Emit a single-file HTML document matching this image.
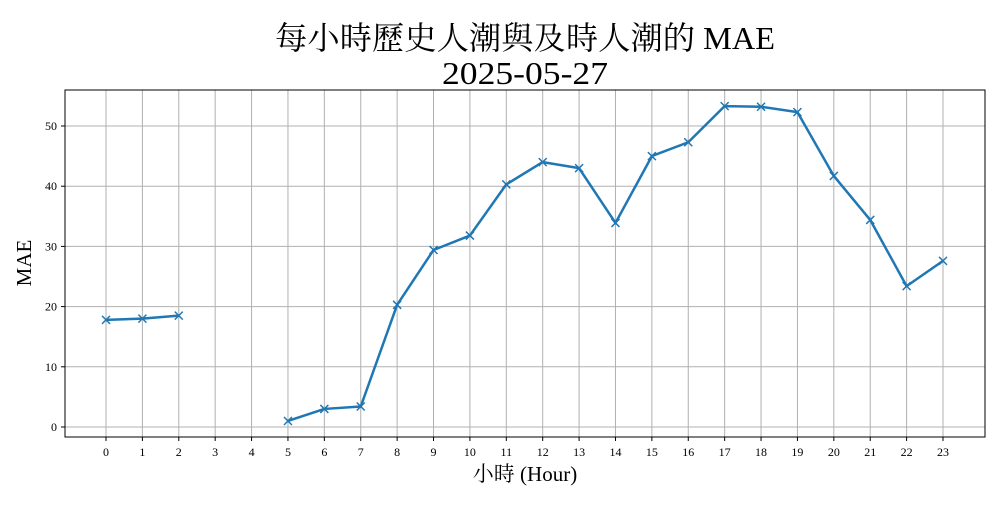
<!DOCTYPE html>
<html><head><meta charset="utf-8"><style>
body{margin:0;background:#fff;width:1000px;height:500px;overflow:hidden}
svg text{font-family:"Liberation Serif","Noto Serif CJK TC",serif}
</style></head><body>
<svg id="chart" width="1000" height="500" xmlns="http://www.w3.org/2000/svg">
<rect x="0" y="0" width="1000" height="500" fill="#fff"/>
<text x="525" y="49" text-anchor="middle" font-size="32" textLength="500" lengthAdjust="spacingAndGlyphs">每小時歷史人潮與及時人潮的 MAE</text>
<text x="525" y="84" text-anchor="middle" font-size="32" textLength="166" lengthAdjust="spacingAndGlyphs">2025-05-27</text>
<g id="grid"></g>
<g id="axes"></g>
<g id="series"></g>
<rect x="65" y="90" width="920" height="347" fill="none" stroke="#000" stroke-width="1"/>
<text x="525" y="481" text-anchor="middle" font-size="21">小時 (Hour)</text>
<text transform="translate(31,263) rotate(-90)" text-anchor="middle" font-size="21">MAE</text>
</svg>
<script>
const hours=[0,1,2,3,4,5,6,7,8,9,10,11,12,13,14,15,16,17,18,19,20,21,22,23];
const maeValues=[17.8,18.0,18.5,null,null,1.0,3.0,3.4,20.3,29.4,31.8,40.3,44.0,43.0,33.9,45.0,47.3,53.3,53.2,52.3,41.7,34.4,23.4,27.6];
const yTicks=[0,10,20,30,40,50];
const NS="http://www.w3.org/2000/svg";
const xs=h=>106+h*(943-106)/23;
const ys=v=>427-v*(427-126)/50;
function mk(tag,attrs,parent){const e=document.createElementNS(NS,tag);for(const k in attrs)e.setAttribute(k,attrs[k]);parent.appendChild(e);return e;}
const grid=document.getElementById('grid'),axes=document.getElementById('axes'),ser=document.getElementById('series');
hours.forEach(h=>{
 const l=mk('line',{x1:xs(h),x2:xs(h),y1:90,y2:437,stroke:'#b0b0b0','stroke-width':1},grid);
 
 
 mk('line',{x1:xs(h),x2:xs(h),y1:437,y2:441,stroke:'#000'},axes);
 const t=mk('text',{x:xs(h),y:456,'text-anchor':'middle','font-size':12},axes);
 t.textContent=h;
 
 
});
yTicks.forEach(v=>{
 const l=mk('line',{x1:65,x2:985,y1:ys(v),y2:ys(v),stroke:'#b0b0b0','stroke-width':1},grid);
 
 
 mk('line',{x1:61,x2:65,y1:ys(v),y2:ys(v),stroke:'#000'},axes);
 const t=mk('text',{x:57,y:ys(v)+4,'text-anchor':'end','font-size':12},axes);
 t.textContent=v;
 
 
});
let segs=[],cur=[];
hours.forEach((h,i)=>{if(maeValues[i]==null){if(cur.length)segs.push(cur);cur=[];}else cur.push([xs(h),ys(maeValues[i])]);});
if(cur.length)segs.push(cur);
segs.forEach(s=>{
 const p=mk('polyline',{points:s.map(q=>q.join(',')).join(' '),fill:'none',stroke:'#1f77b4','stroke-width':2.5,'stroke-linejoin':'round'},ser);
 
 
});
hours.forEach((h,i)=>{
 if(maeValues[i]==null)return;
 const x=xs(h),y=ys(maeValues[i]),d=4;
 const m=mk('path',{d:`M${x-d},${y-d}L${x+d},${y+d}M${x-d},${y+d}L${x+d},${y-d}`,stroke:'#1f77b4','stroke-width':1.5},ser);
 
 
});
</script>
</body></html>
